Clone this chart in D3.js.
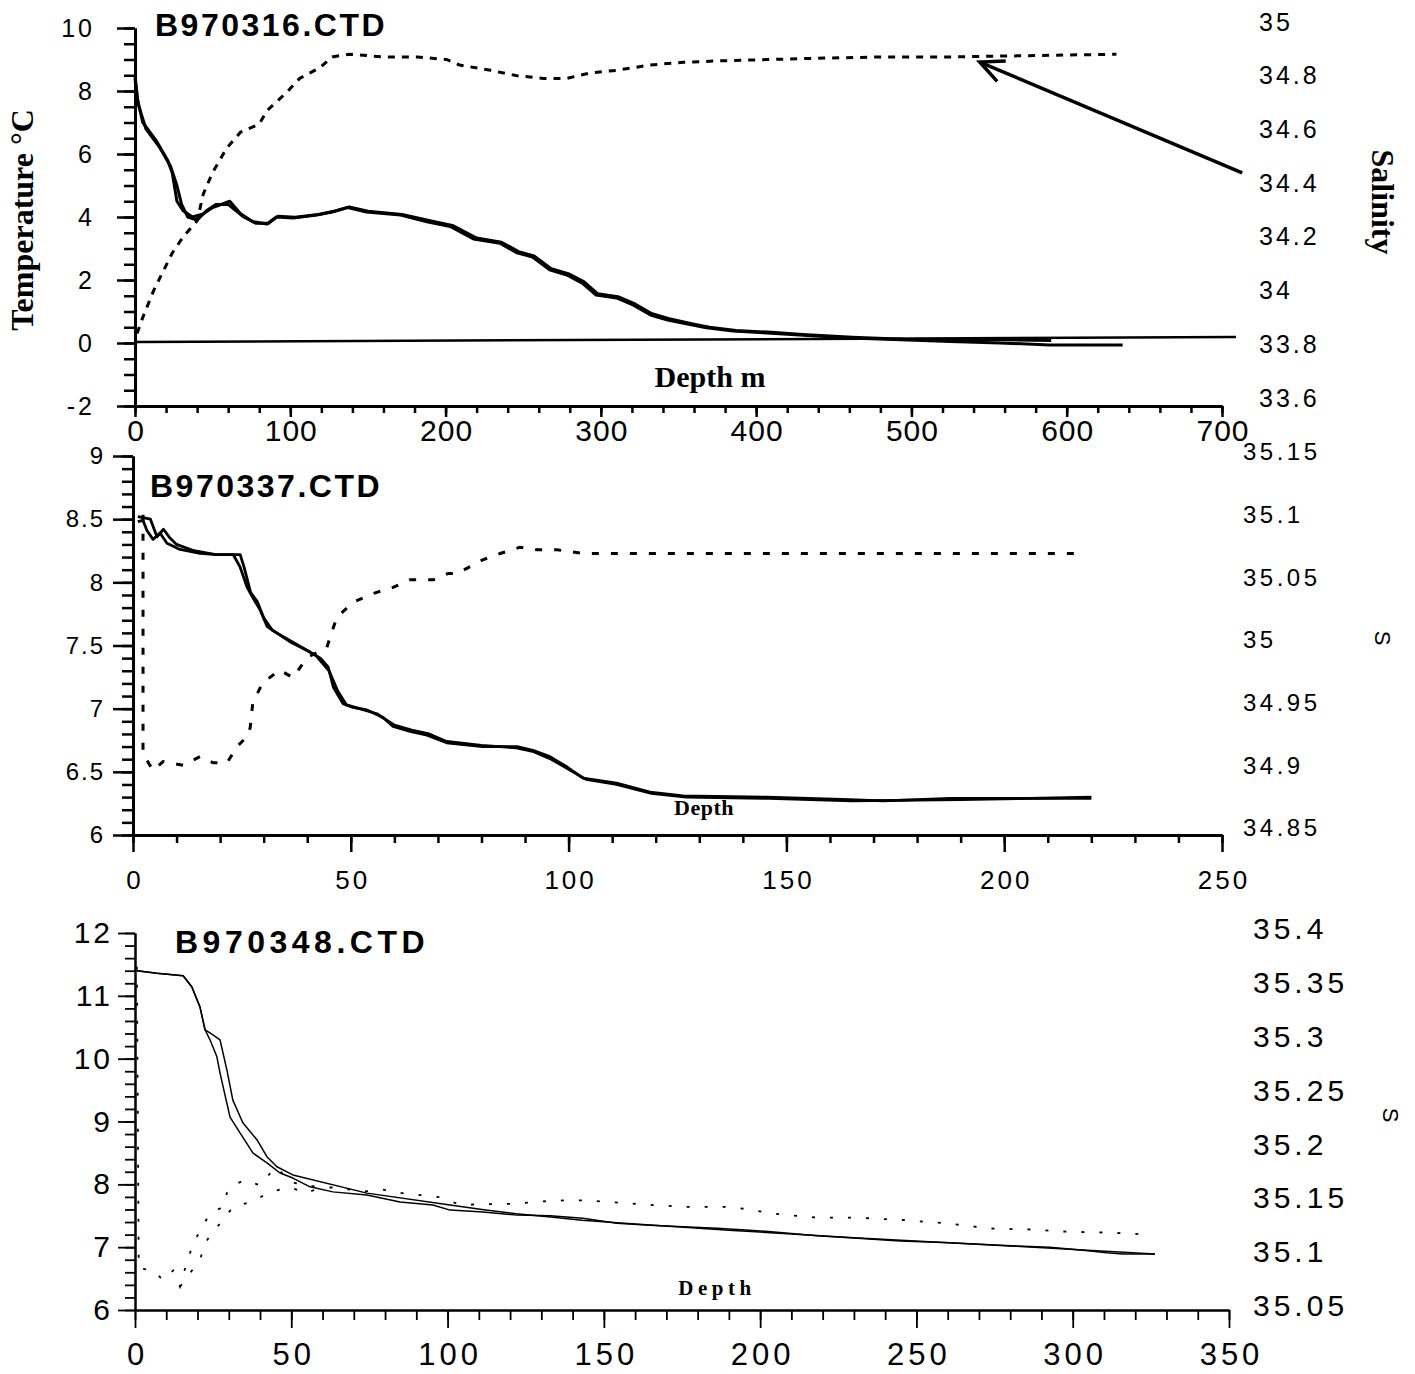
<!DOCTYPE html>
<html><head><meta charset="utf-8">
<script src="https://cdn.jsdelivr.net/npm/d3@7"></script>
<style>body{margin:0;background:#fff}</style>
</head><body><svg id="c" width="1415" height="1374"></svg>
<script>
// ---------------- Panel 1 : B970316.CTD ----------------
const p1Title = "B970316.CTD";
const p1DepthTicks = [0, 100, 200, 300, 400, 500, 600, 700];
const p1TempTicks = [-2, 0, 2, 4, 6, 8, 10];
const p1SalTicks = [33.6, 33.8, 34, 34.2, 34.4, 34.6, 34.8, 35];
const p1TempADepth = [0, 1.3, 5, 14, 21, 24, 27, 31, 37, 44, 50, 61, 68, 76, 85, 91, 102, 117, 127, 137, 149, 171, 188, 203, 218, 235, 246, 256, 267, 278, 288, 297, 310, 321, 332, 343, 359, 368, 385, 407, 428, 460, 493, 525, 557, 589, 636];
const p1TempA = [8.4, 7.8, 7.0, 6.4, 5.8, 5.4, 4.5, 4.2, 4.0, 4.1, 4.3, 4.5, 4.1, 3.85, 3.78, 4.0, 3.97, 4.06, 4.16, 4.3, 4.16, 4.06, 3.85, 3.7, 3.3, 3.17, 2.86, 2.73, 2.32, 2.16, 1.9, 1.52, 1.43, 1.2, 0.89, 0.73, 0.57, 0.48, 0.38, 0.32, 0.25, 0.16, 0.1, 0.05, 0.0, -0.06, -0.06];
const p1TempBDepth = [0, 2, 7, 16, 23, 27, 30, 34, 40, 46, 52, 60, 70, 78, 86, 92, 103, 118, 128, 138, 150, 172, 190, 205, 220, 236, 247, 257, 268, 279, 289, 298, 311, 322, 333, 344, 360, 370, 387, 410, 430, 462, 495, 530, 560, 590];
const p1TempB = [8.5, 7.6, 6.8, 6.2, 5.6, 5.0, 4.4, 4.0, 3.9, 4.2, 4.4, 4.4, 4.0, 3.8, 3.8, 4.02, 3.99, 4.08, 4.18, 4.32, 4.18, 4.08, 3.88, 3.72, 3.33, 3.2, 2.9, 2.76, 2.36, 2.2, 1.95, 1.56, 1.47, 1.24, 0.93, 0.77, 0.6, 0.5, 0.4, 0.34, 0.27, 0.18, 0.12, 0.1, 0.1, 0.08];
const p1SalDepth = [1.3, 5, 12, 18, 24, 31, 40, 44, 50, 59, 68, 80, 85, 98, 106, 119, 127, 138, 160, 182, 201, 209, 229, 246, 263, 278, 293, 310, 332, 353, 375, 407, 439, 482, 525, 632];
const p1Sal = [33.84, 33.90, 34.00, 34.07, 34.14, 34.20, 34.26, 34.36, 34.44, 34.53, 34.59, 34.62, 34.67, 34.74, 34.79, 34.83, 34.87, 34.88, 34.87, 34.87, 34.86, 34.84, 34.82, 34.80, 34.79, 34.79, 34.81, 34.82, 34.84, 34.85, 34.855, 34.86, 34.865, 34.87, 34.87, 34.88];
const p1ZeroDepth = [0, 709];
const p1ZeroTemp = [0.03, 0.19];
const p1ArrowDepth = [713, 544];   // tail, head
const p1ArrowTemp = [5.4, 8.92];

// ---------------- Panel 2 : B970337.CTD ----------------
const p2Title = "B970337.CTD";
const p2DepthTicks = [0, 50, 100, 150, 200, 250];
const p2TempTicks = [6, 6.5, 7, 7.5, 8, 8.5, 9];
const p2SalTicks = [34.85, 34.9, 34.95, 35, 35.05, 35.1, 35.15];
const p2TempADepth = [1.1, 2.3, 3.2, 4.6, 6.2, 7.8, 10.8, 15.4, 19.3, 23, 24.6, 26.2, 27.5, 29.2, 30.8, 33, 36, 40, 43, 44.8, 46, 48.2, 50.5, 53.7, 57.4, 59.7, 63.6, 67.5, 72, 80.3, 88.2, 91.8, 95.7, 99.6, 103.3, 111, 118.7, 126.3, 145.5, 164.6, 172.2, 180, 187.6, 220];
const p2TempA = [8.48, 8.49, 8.41, 8.34, 8.39, 8.31, 8.26, 8.23, 8.22, 8.22, 8.12, 7.96, 7.88, 7.78, 7.65, 7.60, 7.53, 7.46, 7.40, 7.33, 7.17, 7.04, 7.01, 6.99, 6.93, 6.86, 6.82, 6.79, 6.73, 6.70, 6.70, 6.67, 6.62, 6.54, 6.45, 6.41, 6.34, 6.31, 6.30, 6.28, 6.27, 6.28, 6.29, 6.29];
const p2TempBDepth = [1.1, 4, 5.5, 7, 8.5, 10, 14, 19, 24.6, 25.5, 27, 28.5, 30, 32, 35, 39, 42, 45, 47, 49, 52, 56, 60, 64, 68, 72, 80, 88, 92, 96, 100, 104, 111, 119, 127, 146, 165, 190, 220];
const p2TempB = [8.52, 8.50, 8.36, 8.42, 8.35, 8.30, 8.25, 8.22, 8.22, 8.12, 7.92, 7.85, 7.72, 7.62, 7.56, 7.48, 7.42, 7.30, 7.14, 7.03, 7.0, 6.96, 6.87, 6.83, 6.80, 6.74, 6.71, 6.69, 6.66, 6.60, 6.52, 6.44, 6.40, 6.33, 6.30, 6.29, 6.27, 6.28, 6.30];
const p2SalDepth = [2.3, 2.3, 3.2, 4.6, 6.9, 11.5, 15.4, 18.4, 21.6, 23.9, 26.2, 26.9, 27.5, 29.8, 33.7, 36.7, 40, 44.5, 46, 46.8, 50.5, 55, 59.7, 63.6, 68.9, 72.3, 74.4, 80.3, 84.3, 88.8, 92.7, 97.3, 103.3, 126.3, 218];
const p2Sal = [35.10, 34.91, 34.904, 34.896, 34.903, 34.90, 34.907, 34.902, 34.902, 34.915, 34.923, 34.93, 34.95, 34.966, 34.976, 34.97, 34.986, 34.994, 35.01, 35.018, 35.03, 35.037, 35.042, 35.048, 35.048, 35.053, 35.053, 35.064, 35.069, 35.074, 35.072, 35.072, 35.069, 35.069, 35.069];

// ---------------- Panel 3 : B970348.CTD ----------------
const p3Title = "B970348.CTD";
const p3DepthTicks = [0, 50, 100, 150, 200, 250, 300, 350];
const p3TempTicks = [6, 7, 8, 9, 10, 11, 12];
const p3SalTicks = [35.05, 35.1, 35.15, 35.2, 35.25, 35.3, 35.35, 35.4];
const p3TempADepth = [0.6, 7, 15.4, 18.2, 20.8, 22.4, 24, 26.2, 27.2, 30.4, 33.6, 37.7, 42.2, 46.4, 50.5, 56, 63.3, 74.2, 84.8, 95.3, 100.8, 111.3, 122.2, 132.8, 143.3, 154.2, 164.7, 186.2, 196.7, 207.3, 218.2, 228.7, 244.7, 260.7, 276.7, 292.7, 303.3, 310.9, 316, 326.3];
const p3TempA = [11.40, 11.36, 11.32, 11.14, 10.82, 10.46, 10.30, 10.03, 9.77, 9.07, 8.82, 8.50, 8.34, 8.18, 8.10, 7.96, 7.88, 7.83, 7.72, 7.67, 7.59, 7.56, 7.51, 7.50, 7.46, 7.38, 7.35, 7.30, 7.27, 7.23, 7.18, 7.15, 7.10, 7.07, 7.03, 7.00, 6.95, 6.91, 6.89, 6.89];
const p3TempBDepth = [0.6, 7, 15.4, 18.2, 20.8, 22.4, 24, 27.2, 29.4, 31.3, 34.5, 39, 42.2, 45.4, 50.5, 74.2, 100.8, 111, 122, 133, 143, 160, 190, 230, 280, 326.3];
const p3TempB = [11.40, 11.36, 11.32, 11.14, 10.82, 10.46, 10.41, 10.30, 9.82, 9.34, 8.98, 8.71, 8.44, 8.28, 8.15, 7.86, 7.67, 7.60, 7.53, 7.48, 7.43, 7.37, 7.27, 7.15, 7.02, 6.89];
const p3SalADepth = [0.6, 1.2, 5.8, 9, 12.2, 14.4, 17, 19.2, 21.4, 24, 28.2, 29.4, 31.3, 35.2, 40, 43.2, 45.4, 49.6, 59.2, 65.6, 72, 79.3, 84.8, 91.2, 97.6, 104, 122.2, 129.6, 137, 143.3, 149.7, 163.8, 176.6, 191, 197.4, 203.8, 210.5, 218.2, 231, 244.7, 258.5, 264.9, 273.5, 286.3, 298.1, 312.9, 325.7];
const p3SalA = [35.365, 35.085, 35.083, 35.074, 35.083, 35.068, 35.095, 35.111, 35.123, 35.136, 35.142, 35.155, 35.162, 35.167, 35.162, 35.173, 35.179, 35.165, 35.16, 35.16, 35.156, 35.158, 35.155, 35.153, 35.151, 35.144, 35.145, 35.147, 35.148, 35.148, 35.147, 35.144, 35.142, 35.142, 35.139, 35.136, 35.134, 35.132, 35.132, 35.13, 35.127, 35.125, 35.122, 35.121, 35.119, 35.118, 35.116];
const p3SalBDepth = [14.4, 20.8, 22.4, 25, 27.8, 31.3, 37.7, 43.2, 49.6, 55, 59.2];
const p3SalB = [35.068, 35.093, 35.108, 35.12, 35.128, 35.142, 35.147, 35.156, 35.16, 35.155, 35.16];

// ---------------- drawing ----------------
const SANS = "'Liberation Sans', Arial, Helvetica, sans-serif";
const SERIF = "'Liberation Serif', 'Times New Roman', serif";
const svg = d3.select("#c");
svg.append("rect").attr("width", 1415).attr("height", 1374).attr("fill", "#fff");

const fmt = d => String(+(+d).toFixed(2));

function styleAxis(sel, w, tw) {
  sel.select(".domain").attr("stroke", "#000").attr("stroke-width", w);
  sel.selectAll(".tick line").attr("stroke", "#000").attr("stroke-width", tw);
}

function panel(c) {
  const g = svg.append("g");
  const x = d3.scaleLinear().domain(c.xDom).range(c.xRange);
  const yT = d3.scaleLinear().domain(c.tDom).range(c.tRange);
  const yS = d3.scaleLinear().domain(c.sDom).range(c.sRange);
  const x0 = c.xRange[0], yb = c.tRange[0];

  // x axis
  const xMinor = d3.range(c.xDom[0], c.xDom[1] + 1e-9, c.xMinorStep);
  g.append("g").attr("transform", `translate(0,${yb})`)
    .call(d3.axisBottom(x).tickValues(xMinor).tickSize(c.xMinorLen).tickSizeOuter(0).tickFormat(""))
    .call(s => styleAxis(s, c.axisW, c.tickW));
  const gx = g.append("g").attr("transform", `translate(0,${yb})`)
    .call(d3.axisBottom(x).tickValues(c.xTicks).tickSize(c.xMajorLen).tickSizeOuter(0).tickPadding(c.xPad).tickFormat(fmt))
    .call(s => styleAxis(s, c.axisW, c.tickW));
  gx.selectAll("text").attr("font-family", SANS).attr("font-size", c.xFont)
    .attr("letter-spacing", c.xLS).attr("fill", "#000").attr("dx", c.xLS / 2);

  // left temperature axis
  const tMinor = d3.range(c.tDom[0], c.tDom[1] + 1e-9, c.tMinorStep);
  g.append("g").attr("transform", `translate(${x0},0)`)
    .call(d3.axisLeft(yT).tickValues(tMinor).tickSize(c.yMinorLen).tickSizeOuter(0).tickFormat(""))
    .call(s => styleAxis(s, c.axisW, c.tickW));
  const gy = g.append("g").attr("transform", `translate(${x0},0)`)
    .call(d3.axisLeft(yT).tickValues(c.tTicks).tickSize(c.yMajorLen).tickSizeOuter(0).tickPadding(c.yPad).tickFormat(fmt))
    .call(s => styleAxis(s, c.axisW, c.tickW));
  gy.selectAll("text").attr("font-family", SANS).attr("font-size", c.yFont)
    .attr("letter-spacing", c.yLS).attr("fill", "#000");

  // right salinity labels (no axis line)
  const gs = g.append("g").attr("transform", `translate(${c.sLabelX},0)`)
    .call(d3.axisRight(yS).tickValues(c.sTicks).tickSize(0).tickPadding(0).tickFormat(fmt));
  gs.select(".domain").remove();
  gs.selectAll("text").attr("font-family", SANS).attr("font-size", c.sFont)
    .attr("letter-spacing", c.sLS).attr("fill", "#000");

  const lineT = d3.line().x(d => x(d[0])).y(d => yT(d[1]));
  const lineS = d3.line().x(d => x(d[0])).y(d => yS(d[1]));

  (c.extraT || []).forEach(s => {
    g.append("path").datum(d3.zip(s.d, s.v)).attr("d", lineT)
      .attr("fill", "none").attr("stroke", "#000").attr("stroke-width", s.w);
  });
  c.temps.forEach(s => {
    g.append("path").datum(d3.zip(s.d, s.v)).attr("d", lineT)
      .attr("fill", "none").attr("stroke", "#000").attr("stroke-width", c.tempW)
      .attr("stroke-linejoin", "round");
  });
  c.sals.forEach(s => {
    g.append("path").datum(d3.zip(s.d, s.v)).attr("d", lineS)
      .attr("fill", "none").attr("stroke", "#000").attr("stroke-width", c.salW)
      .attr("stroke-dasharray", c.salDash);
  });

  // title
  g.append("text").attr("x", c.titleX).attr("y", c.titleY).text(c.title)
    .attr("font-family", SANS).attr("font-weight", "bold").attr("font-size", c.titleFont)
    .attr("letter-spacing", c.titleLS).attr("fill", "#000");

  // depth label
  g.append("text").attr("x", c.depthX).attr("y", c.depthY).text(c.depthText)
    .attr("text-anchor", "middle").attr("font-family", SERIF).attr("font-weight", "bold")
    .attr("font-size", c.depthFont).attr("letter-spacing", c.depthLS).attr("fill", "#000");

  // right axis title
  g.append("text").attr("transform", `translate(${c.sTitleX},${c.sTitleY}) rotate(90)`)
    .text(c.sTitle).attr("text-anchor", "middle")
    .attr("font-family", c.sTitleSerif ? SERIF : SANS)
    .attr("font-weight", c.sTitleSerif ? "bold" : "normal")
    .attr("font-size", c.sTitleFont).attr("fill", "#000");

  return { g, x, yT, yS };
}

// Panel 1
const P1 = panel({
  xDom: [0, 700], xRange: [135, 1222], tDom: [-2, 10], tRange: [406, 28],
  sDom: [33.6, 35], sRange: [398, 22],
  xTicks: p1DepthTicks, xMinorStep: 20, tTicks: p1TempTicks, tMinorStep: 0.5, sTicks: p1SalTicks,
  xMajorLen: 11, xMinorLen: 7, yMajorLen: 18, yMinorLen: 11, axisW: 3, tickW: 2.5,
  xPad: 3, xFont: 30, xLS: 1, yPad: 22, yFont: 25, yLS: 3,
  sLabelX: 1259, sFont: 25, sLS: 3,
  temps: [{ d: p1TempADepth, v: p1TempA }, { d: p1TempBDepth, v: p1TempB }],
  extraT: [{ d: p1ZeroDepth, v: p1ZeroTemp, w: 2.5 }],
  tempW: 3, sals: [{ d: p1SalDepth, v: p1Sal }], salW: 3, salDash: "7,7",
  title: p1Title, titleX: 155, titleY: 36, titleFont: 32, titleLS: 2.5,
  depthText: "Depth m", depthX: 710, depthY: 387, depthFont: 30, depthLS: 0,
  sTitle: "Salinity", sTitleX: 1372, sTitleY: 202, sTitleFont: 32, sTitleSerif: true
});
// left axis title (panel 1)
P1.g.append("text").attr("transform", "translate(33,220) rotate(-90)")
  .text("Temperature °C").attr("text-anchor", "middle").attr("font-family", SERIF)
  .attr("font-weight", "bold").attr("font-size", 32).attr("fill", "#000");
// annotation arrow
{
  const tx = P1.x(p1ArrowDepth[0]), ty = P1.yT(p1ArrowTemp[0]);
  const hx = P1.x(p1ArrowDepth[1]), hy = P1.yT(p1ArrowTemp[1]);
  const ang = Math.atan2(ty - hy, tx - hx), L = 26, spread = 25 * Math.PI / 180;
  P1.g.append("line").attr("x1", tx).attr("y1", ty).attr("x2", hx).attr("y2", hy)
    .attr("stroke", "#000").attr("stroke-width", 3.5);
  P1.g.append("path")
    .attr("d", `M${hx + L * Math.cos(ang - spread)},${hy + L * Math.sin(ang - spread)}L${hx},${hy}L${hx + L * Math.cos(ang + spread)},${hy + L * Math.sin(ang + spread)}`)
    .attr("fill", "none").attr("stroke", "#000").attr("stroke-width", 3.5).attr("stroke-linejoin", "miter");
}

// Panel 2
panel({
  xDom: [0, 250], xRange: [133, 1222], tDom: [6, 9], tRange: [835, 456],
  sDom: [34.85, 35.15], sRange: [828, 452],
  xTicks: p2DepthTicks, xMinorStep: 10, tTicks: p2TempTicks, tMinorStep: 0.1, sTicks: p2SalTicks,
  xMajorLen: 17, xMinorLen: 8, yMajorLen: 20, yMinorLen: 11, axisW: 3, tickW: 2.5,
  xPad: 19, xFont: 26, xLS: 3, yPad: 8, yFont: 24, yLS: 2,
  sLabelX: 1243, sFont: 24, sLS: 3.5,
  temps: [{ d: p2TempADepth, v: p2TempA }, { d: p2TempBDepth, v: p2TempB }],
  tempW: 2.8, sals: [{ d: p2SalDepth, v: p2Sal }], salW: 3, salDash: "7,12",
  title: p2Title, titleX: 150, titleY: 497, titleFont: 32, titleLS: 2.5,
  depthText: "Depth", depthX: 704, depthY: 815, depthFont: 22, depthLS: 0.5,
  sTitle: "S", sTitleX: 1375, sTitleY: 638, sTitleFont: 22, sTitleSerif: false
});

// Panel 3
panel({
  xDom: [0, 350], xRange: [135, 1229], tDom: [6, 12], tRange: [1310, 933],
  sDom: [35.05, 35.4], sRange: [1306, 929],
  xTicks: p3DepthTicks, xMinorStep: 10, tTicks: p3TempTicks, tMinorStep: 0.2, sTicks: p3SalTicks,
  xMajorLen: 18, xMinorLen: 10, yMajorLen: 17, yMinorLen: 10, axisW: 2, tickW: 1.8,
  xPad: 15, xFont: 31, xLS: 4, yPad: 5, yFont: 30, yLS: 3,
  sLabelX: 1253, sFont: 30, sLS: 4,
  temps: [{ d: p3TempADepth, v: p3TempA }, { d: p3TempBDepth, v: p3TempB }],
  tempW: 1.5, sals: [{ d: p3SalADepth, v: p3SalA }, { d: p3SalBDepth, v: p3SalB }], salW: 1.8, salDash: "3,15",
  title: p3Title, titleX: 175, titleY: 953, titleFont: 32, titleLS: 4.5,
  depthText: "Depth", depthX: 717, depthY: 1295, depthFont: 21, depthLS: 4.5,
  sTitle: "S", sTitleX: 1383, sTitleY: 1115, sTitleFont: 22, sTitleSerif: false
});
</script></body></html>
